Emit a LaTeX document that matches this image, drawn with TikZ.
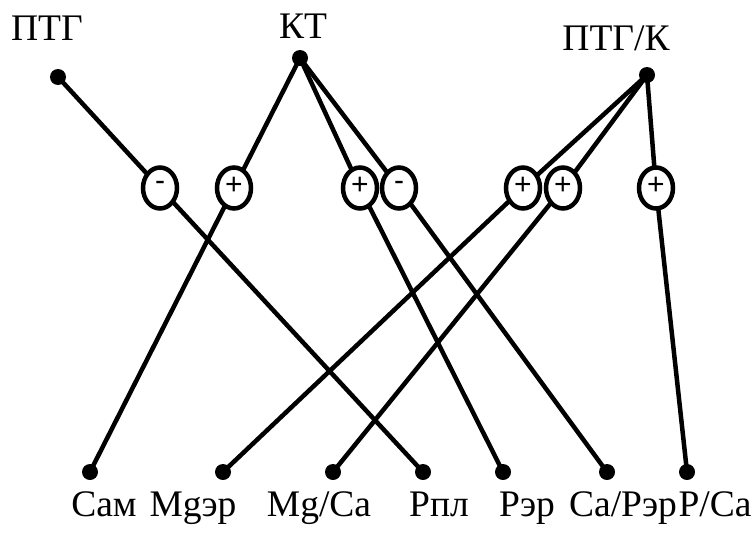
\documentclass[tikz,border=0pt]{standalone}
\usepackage{fontspec}
\setmainfont{Liberation Serif}
\newfontfamily\lblfont{Liberation Serif}
\newfontfamily\signfont{Liberation Sans}
\usetikzlibrary{shapes.geometric,backgrounds}
\begin{document}
\begin{tikzpicture}[x=1pt,y=-1pt,
  dot/.style={circle,fill=black,inner sep=0pt,minimum size=16pt},
  sign/.style={ellipse,draw=black,line width=4.5pt,fill=white,minimum width=34pt,minimum height=41pt,inner sep=0pt,font=\signfont\fontsize{30}{30}\selectfont},
  lbl/.style={anchor=base,font=\lblfont\fontsize{37.5}{37.5}\selectfont,inner sep=0pt},
  conn/.style={line width=4.5pt}]
\useasboundingbox (0,0) rectangle (755,533);
% top labels
\node[lbl] (l1) at (47,40) {ПТГ};
\node[lbl] (l2) at (303,38) {КТ};
\node[lbl] (l3) at (616,50) {ПТГ/К};
% top dots
\node[dot] (t1) at (58,77) {};
\node[dot] (t2) at (300,58) {};
\node[dot] (t3) at (647,75) {};
% bottom dots
\node[dot] (b1) at (90,472) {};
\node[dot] (b2) at (223,472) {};
\node[dot] (b3) at (333,472) {};
\node[dot] (b4) at (423,472) {};
\node[dot] (b5) at (503,472) {};
\node[dot] (b6) at (607,472) {};
\node[dot] (b7) at (687,472) {};
% bottom labels
\node[lbl] (m1) at (104,516) {Сам};
\node[lbl] (m2) at (193,516) {Mgэр};
\node[lbl] (m3) at (319,516) {Mg/Ca};
\node[lbl] (m4) at (439,516) {Pпл};
\node[lbl] (m5) at (527,516) {Pэр};
\node[lbl] (m6) at (623,516) {Ca/Pэр};
\node[lbl] (m7) at (715,516) {P/Ca};
% sign ellipses
\node[sign] (e1) at (160,188) {\raisebox{5pt}{-}};
\node[sign] (e2) at (234,188) {\raisebox{5pt}{+}};
\node[sign] (e3) at (360,188) {\raisebox{5pt}{+}};
\node[sign] (e4) at (399,188) {\raisebox{5pt}{-}};
\node[sign] (e5) at (523,188) {\raisebox{5pt}{+}};
\node[sign] (e6) at (563,188) {\raisebox{5pt}{+}};
\node[sign] (e7) at (656,188) {\raisebox{5pt}{+}};
% connectors
\begin{pgfonlayer}{background}
\draw[conn] (t1.center) -- (e1.center) -- (b4.center);
\draw[conn] (t2.center) -- (e2.center) -- (b1.center);
\draw[conn] (t2.center) -- (e3.center) -- (b5.center);
\draw[conn] (t2.center) -- (e4.center) -- (b6.center);
\draw[conn] (t3.center) -- (e5.center) -- (b2.center);
\draw[conn] (t3.center) -- (e6.center) -- (b3.center);
\draw[conn] (t3.center) -- (e7.center) -- (b7.center);
\end{pgfonlayer}
\end{tikzpicture}
\end{document}
